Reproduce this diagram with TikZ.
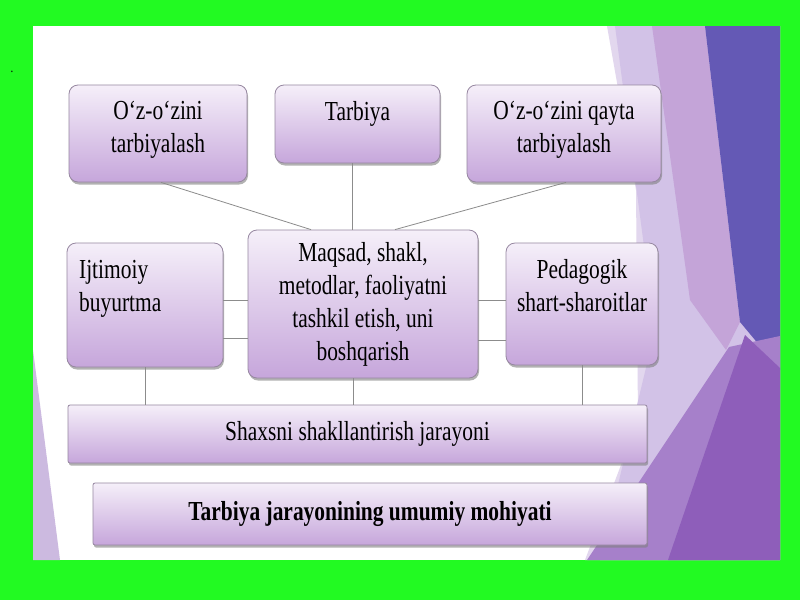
\documentclass[tikz,border=0pt]{standalone}
\usepackage{fontspec}
\setmainfont{Liberation Serif}[FakeStretch=0.78]
\usetikzlibrary{shadows}
\definecolor{screengreen}{RGB}{34,250,34}
\definecolor{boxtop}{RGB}{245,239,249}
\definecolor{boxbottom}{RGB}{198,166,219}
\definecolor{boxline}{RGB}{150,135,160}
\definecolor{linkgray}{RGB}{140,140,140}
\definecolor{facetpale}{RGB}{226,215,238}
\definecolor{facetlight}{RGB}{210,194,231}
\definecolor{facetmid}{RGB}{196,164,216}
\definecolor{facetblue}{RGB}{100,89,181}
\definecolor{facetlilac}{RGB}{166,128,202}
\definecolor{facetpurple}{RGB}{142,94,186}
\definecolor{slivercolor}{RGB}{204,186,224}

\begin{document}
\begin{tikzpicture}[x=1pt, y=-1pt,
    every node/.style={font=\fontsize{27.5}{33}\selectfont, text=black},
    box/.style={draw=boxline, line width=0.8pt, rounded corners=9pt,
      top color=boxtop, bottom color=boxbottom,
      drop shadow={shadow xshift=1pt, shadow yshift=-2.5pt, fill=black!50, opacity=0.6}},
    bar/.style={box, rounded corners=2pt},
    toptext/.style={anchor=north, yshift=-13pt, align=center},
    link/.style={draw=linkgray, line width=0.8pt}]
    \useasboundingbox (0,0) rectangle (800,600);
    % frame and slide background
    \fill[screengreen] (0,0) rectangle (800,600);
    \fill[white] (33,26) rectangle (780,560);
    \fill[slivercolor] (33,350) -- (60,560) -- (33,560) -- cycle;
    \fill[facetpale] (607,26) -- (780,26) -- (780,560) -- (585,560) -- (638,420) -- (636,190) -- cycle;
    \fill[facetlight] (615,26) -- (780,26) -- (780,560) -- (600,560) -- (655,330) -- cycle;
    \fill[facetmid] (652,26) -- (705,26) -- (740,322) -- (726,350) -- (690,300) -- cycle;
    \fill[facetblue] (705,26) -- (780,26) -- (780,370) -- (740,322) -- cycle;
    \fill[facetlilac] (587,560) -- (729,347) -- (780,336) -- (780,560) -- cycle;
    \fill[facetpurple] (668,560) -- (745,335) -- (780,368) -- (780,560) -- cycle;
    \node[font=\fontsize{14}{16}\selectfont] (dot) at (12,72) {.};

    % boxes
    \node[box, minimum width=178pt, minimum height=97pt] (self) at (158,133.5)
      [label={[toptext]north:{O‘z-o‘zini\\tarbiyalash}}] {};
    \node[box, minimum width=165pt, minimum height=78pt] (tarbiya) at (357.5,124)
      [label={[toptext]north:{Tarbiya}}] {};
    \node[box, minimum width=194pt, minimum height=97pt] (reself) at (564,133.5)
      [label={[toptext]north:{O‘z-o‘zini qayta\\tarbiyalash}}] {};
    \node[box, minimum width=156pt, minimum height=124pt] (order) at (145,305)
      [label={[anchor=north west, xshift=9pt, yshift=-14pt, align=left]north west:{Ijtimoiy\\buyurtma}}] {};
    \node[box, minimum width=230pt, minimum height=148pt, align=center] (goal) at (363,304)
      {Maqsad, shakl,\\metodlar, faoliyatni\\tashkil etish, uni\\boshqarish};
    \node[box, minimum width=152pt, minimum height=122pt] (cond) at (582,304)
      [label={[toptext]north:{Pedagogik\\shart-sharoitlar}}] {};
    \node[bar, minimum width=579pt, minimum height=58pt] (shape) at (357.5,434)
      {Shaxsni shakllantirish jarayoni};
    \node[bar, minimum width=554pt, minimum height=62pt, font=\fontsize{27.5}{33}\selectfont\bfseries] (essence) at (370,514)
      {Tarbiya jarayonining umumiy mohiyati};

    % links
    \draw[link] ([xshift=3pt]self.south) -- ([xshift=-52pt]goal.north);
    \draw[link] ([xshift=-5pt]tarbiya.south) -- ([xshift=-5pt]tarbiya.south |- goal.north);
    \draw[link] ([xshift=2pt]reself.south) -- ([xshift=32pt]goal.north);
    \draw[link] ([yshift=5pt]order.east) -- ([yshift=5pt]order.east -| goal.west);
    \draw[link] ([yshift=-33pt]order.east) -- ([yshift=-33pt]order.east -| goal.west);
    \draw[link] ([yshift=4pt]cond.west) -- ([yshift=4pt]cond.west -| goal.east);
    \draw[link] ([yshift=-36pt]cond.west) -- ([yshift=-36pt]cond.west -| goal.east);
    \draw[link] (order.south) -- (order.south |- shape.north);
    \draw[link] ([xshift=-10pt]goal.south) -- ([xshift=-10pt]goal.south |- shape.north);
    \draw[link] (cond.south) -- (cond.south |- shape.north);
\end{tikzpicture}
\end{document}
